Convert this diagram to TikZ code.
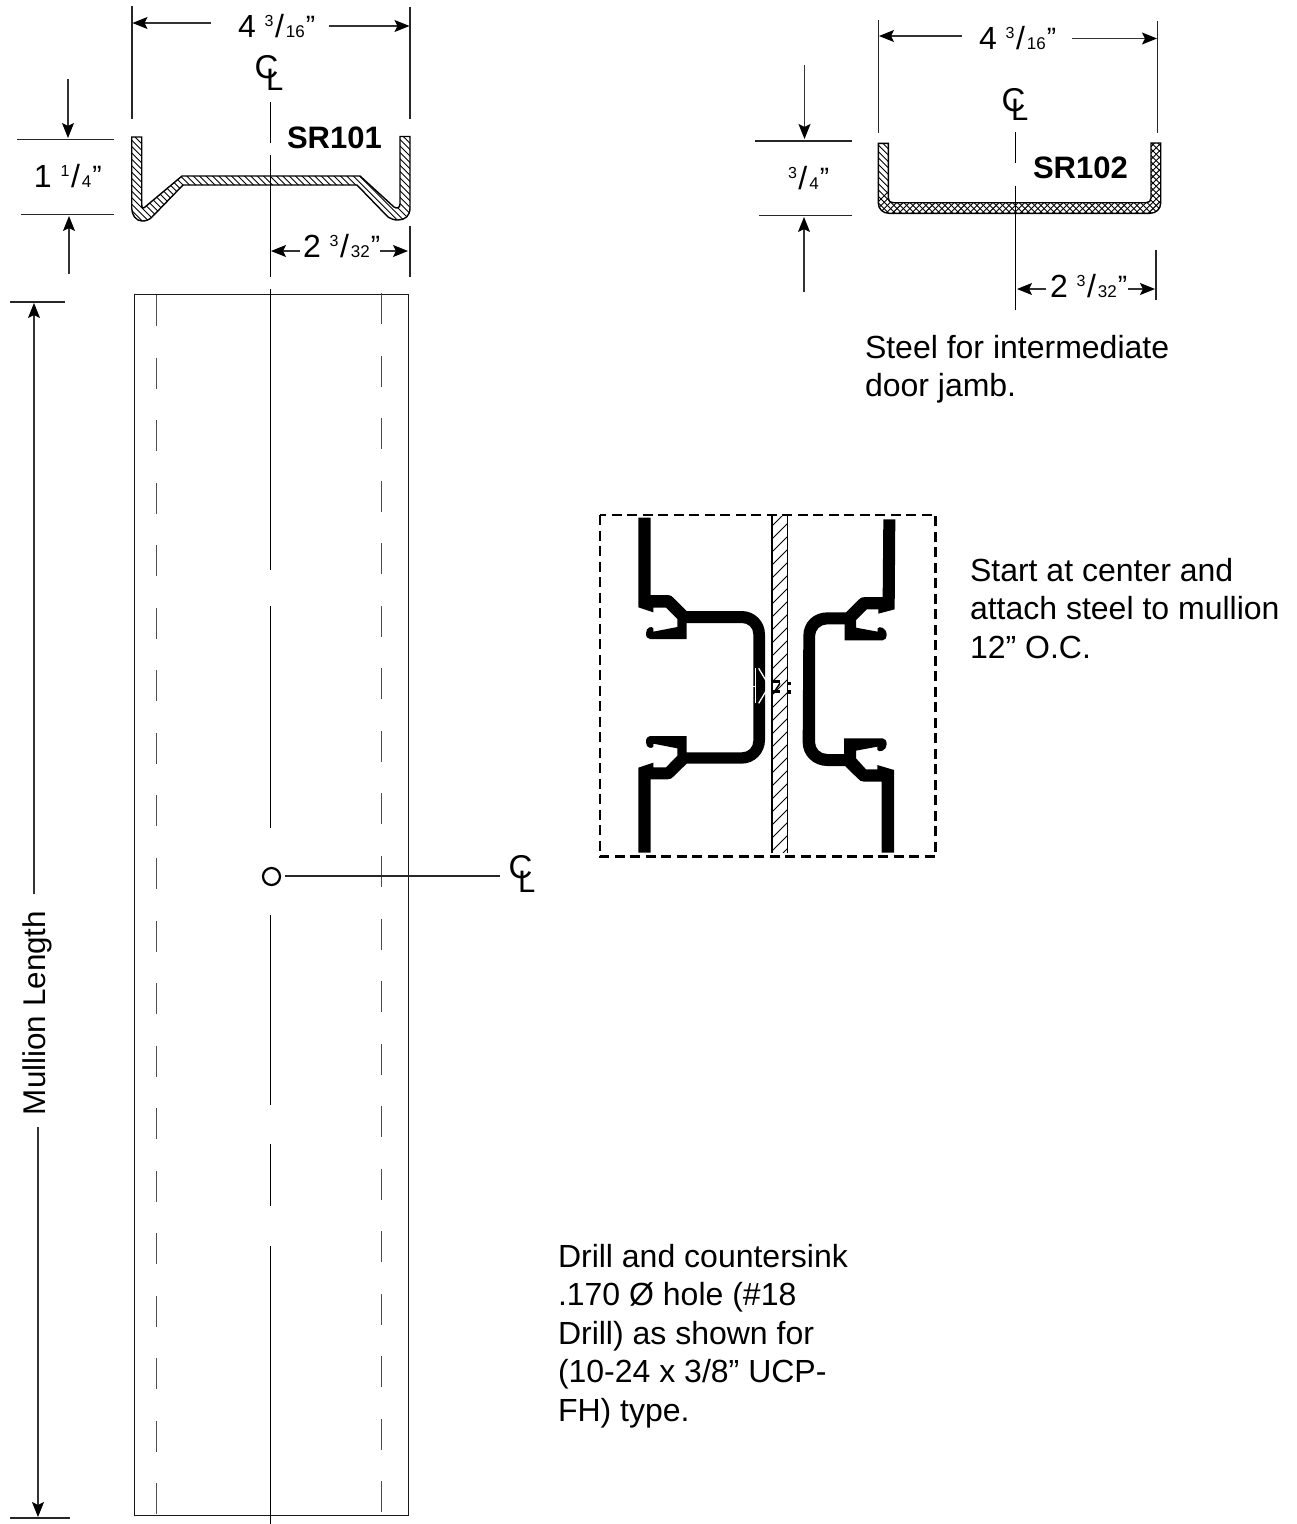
\documentclass[tikz,border=0pt]{standalone}
\usepackage{fontspec}
\setmainfont{Liberation Sans}
\usetikzlibrary{arrows.meta}
\newcommand\frc[2]{\raisebox{10.5pt}{\fontsize{16}{20}\selectfont #1}\kern1.5pt/\kern2pt{\fontsize{17}{20}\selectfont #2}\kern1pt\raisebox{2pt}{\fontsize{28}{30}\selectfont ”}}
\tikzset{
  thin line/.style={line width=1.1pt,black!85},
  dim/.style={line width=1.1pt,black!80,-{Stealth[length=15pt,width=12pt,inset=3pt,color=black]}},
  txt/.style={inner sep=0pt,outer sep=0pt,anchor=base west,font=\fontsize{32}{38.4}\selectfont},
  para/.style={inner sep=0pt,outer sep=0pt,anchor=north west,align=left,font=\fontsize{32}{38.5}\selectfont},
  boldtxt/.style={inner sep=0pt,outer sep=0pt,anchor=base west,font=\fontsize{31}{36}\selectfont\bfseries},
  clsym/.style={inner sep=0pt,outer sep=0pt,anchor=base west,font=\fontsize{31}{36}\selectfont},
  clsymc/.style={inner sep=0pt,outer sep=0pt,anchor=base west,font=\fontsize{33}{36}\selectfont},
  hatchline/.style={line width=0.9pt,black},
  profile/.style={line width=1.4pt,black},
  hidden/.style={line width=1pt,black!70,dash pattern=on 31pt off 31.55pt},
  cline/.style={line width=1pt,black},
}
\def\profA{(131.7,137) -- (141.7,137) -- (141.7,204) .. controls (141.7,208) and (143,209) .. (145,207) -- (182,176) -- (360,176) -- (394,207) .. controls (397,209) and (400,208) .. (400,204) -- (400,136.5) -- (410,136.5) -- (410,208) .. controls (410,216) and (405,220) .. (398,220) .. controls (394,220) and (391,219) .. (388,217) -- (357,185) -- (183,185) -- (152,217) .. controls (149,220) and (146,221) .. (142,221) .. controls (136,221) and (131.7,215) .. (131.7,208) -- cycle}
\def\profB{(878.3,143.3) -- (888.3,143.3) -- (888.3,198) .. controls (888.3,201) and (890,202.7) .. (893,202.7) -- (1146,202.7) .. controls (1149,202.7) and (1151,201) .. (1151,198) -- (1151,143) -- (1160.7,143) -- (1160.7,203) .. controls (1160.7,209) and (1156,213.3) .. (1150,213.3) -- (889,213.3) .. controls (883,213.3) and (878.3,209) .. (878.3,203) -- cycle}
\begin{document}
\begin{tikzpicture}[x=1pt,y=-1pt]
\useasboundingbox (0,0) rectangle (1297,1524);
\fill[white] (0,0) rectangle (1297,1524);

% ---- SR101 section
\begin{scope}
  \clip \profA;
  \foreach \k in {0,...,70} \draw[hatchline] ({-10+6.4*\k},120) -- ({-10+6.4*\k+110},230);
\end{scope}
\draw[profile] \profA;
% extension lines
\draw[thin line] (132,6) -- (132,119);
\draw[thin line] (410,7) -- (410,119);
\draw[dim] (211,23) -- (132.5,23);
\draw[dim] (329,26) -- (409.5,26);
\node[txt] (a4) at (238,37) {4 \frc{3}{16}};
\node[clsymc] (c1c) at (254.5,78) {C};
\node[clsym] (c1l) at (266,90) {L};
\draw[cline] (270,102) -- (270,143);
\draw[cline] (270,155) -- (270,277);
\node[boldtxt] (sr1) at (287,148) {SR101};
\draw[thin line] (17,139.5) -- (114,139.5);
\draw[thin line] (21,214.5) -- (114,214.5);
\draw[dim] (68,79) -- (68,138);
\draw[dim] (69,274) -- (69,216);
\node[txt] (a1) at (34,187) {1 \frc{1}{4}};
\draw[thin line] (410,226) -- (410,277);
\draw[dim] (300,251) -- (271,251);
\draw[dim] (380,251) -- (408,251);
\node[txt] (a2) at (303,257) {2 \frc{3}{32}};

% ---- SR102 section
\begin{scope}
  \clip \profB;
  \foreach \k in {0,...,80} {
    \draw[hatchline] ({780+6.4*\k},130) -- ({780+6.4*\k+90},220);
    \draw[hatchline] ({860+6.4*\k},220) -- ({860+6.4*\k+90},130);
  }
\end{scope}
\draw[profile] \profB;
\draw[thin line] (878.5,20) -- (878.5,133);
\draw[thin line] (1157.5,21) -- (1157.5,133);
\draw[dim] (962,36) -- (879,36);
\draw[dim] (1072,38.5) -- (1157,38.5);
\node[txt] (b4) at (979,49) {4 \frc{3}{16}};
\node[clsymc] (c2c) at (1001.5,111) {C};
\node[clsym] (c2l) at (1011,120) {L};
\draw[cline] (1015,132) -- (1015,163);
\draw[cline] (1015,186) -- (1015,310);
\node[boldtxt] (sr2) at (1033,178) {SR102};
\draw[thin line] (755,141) -- (852,141);
\draw[thin line] (759,215.5) -- (852,215.5);
\draw[dim] (804.5,65) -- (804.5,139);
\draw[dim] (804,292) -- (804,217);
\node[txt] (b1) at (788,189) {\frc{3}{4}};
\draw[thin line] (1156,250) -- (1156,300);
\draw[dim] (1046,289) -- (1017,289);
\draw[dim] (1128,289) -- (1155,289);
\node[txt] (b2) at (1050,297) {2 \frc{3}{32}};
\node[para] (tsteel) at (865,335) {Steel for intermediate\\door jamb.};

% ---- Mullion elevation
\draw[line width=1pt,black!90] (134.5,294) rectangle (408.5,1515);
\draw[hidden] (156,295) -- (156,1515);
\draw[hidden] (381.7,293) -- (381.7,1515);
\draw[cline] (270,289) -- (270,570);
\draw[cline] (270,606) -- (270,827.5);
\draw[cline] (270,915) -- (270,1104.7);
\draw[cline] (270,1144) -- (270,1205.5);
\draw[cline] (270,1246) -- (270,1524);
\node[circle,draw,line width=2.2pt,minimum size=17pt,inner sep=0pt] (hole) at (271.5,876.5) {};
\draw[thin line] (285,876) -- (500,876);
\node[clsymc] (c3c) at (508.5,878) {C};
\node[clsym] (c3l) at (518,892) {L};
% mullion length dimension
\draw[thin line] (10,302) -- (65,302);
\draw[thin line] (10,1518) -- (70,1518);
\draw[dim] (34,894) -- (34,303);
\draw[dim] (38,1127) -- (38,1517);
\node[txt,rotate=90,font=\fontsize{31.4}{38}\selectfont] (mlen) at (45,1115) {Mullion Length};

% ---- Mullion cross-section
\begin{scope}[shift={(590,505)},x=0.33333pt,y=-0.33333pt]
  % centre steel
  \begin{scope}
    \clip (546,33) rectangle (592,1043);
    \foreach \k in {0,...,30} \draw[line width=0.9pt] (530,{40+39*\k}) -- (610,{40+39*\k-80});
  \end{scope}
  \draw[line width=1.4pt] (546,33) -- (546,1043);
  \draw[line width=1.4pt] (592,33) -- (592,1043);
  % left extrusion
  \fill (145,38) -- (182,38) -- (182,270) -- (232,270) .. controls (240,270) and (246,273) .. (250,278) -- (290,318) -- (455,318)
    .. controls (494,318) and (525,349) .. (525,388) -- (525,705) .. controls (525,744) and (494,776) .. (455,776) -- (290,776)
    -- (250,815) .. controls (246,820) and (240,823) .. (232,823) -- (182,823) -- (182,1043) -- (145,1043) -- (145,788) -- (190,773) -- (190,787) -- (228,787)
    -- (262,752) -- (262,730) -- (190,716) -- (190,725) .. controls (186,732) and (168,730) .. (168,712) .. controls (168,700) and (172,693) .. (180,693) -- (290,693) -- (290,742) -- (455,742)
    .. controls (475,742) and (490,727) .. (490,707) -- (490,388) .. controls (490,368) and (475,354) .. (455,354) -- (290,354) -- (290,402) -- (180,402)
    .. controls (172,402) and (168,395) .. (168,385) .. controls (168,366) and (186,362) .. (190,370) -- (190,380) -- (262,366) -- (262,342) -- (228,308) -- (190,308) -- (190,322) -- (145,307) -- cycle;
  % right extrusion
  \fill (880,43) -- (916,43) -- (914,313) -- (865,326) -- (865,313) -- (830,313) -- (798,345) -- (798,368) -- (863,380) -- (863,370)
    .. controls (868,362) and (890,368) .. (890,390) .. controls (890,398) and (886,406) .. (878,406) -- (764,406) -- (764,358) -- (712,358)
    .. controls (691,358) and (675,374) .. (675,395) -- (675,710) .. controls (675,731) and (691,747) .. (712,747) -- (762,747) -- (762,700) -- (878,700)
    .. controls (886,700) and (890,708) .. (890,718) .. controls (890,736) and (868,744) .. (862,735) -- (862,725) -- (798,737) -- (798,760) -- (828,793) -- (862,793) -- (862,780) -- (912,795) -- (912,1043) -- (875,1043) -- (875,830) -- (822,830)
    .. controls (814,830) and (808,826) .. (803,820) -- (765,783) -- (712,783) .. controls (671,783) and (638,752) .. (638,712) -- (640,392)
    .. controls (640,352) and (671,322) .. (712,322) -- (768,322) -- (805,285) .. controls (810,279) and (816,276) .. (825,276) -- (878,276) -- cycle;
  % rivet
  \draw[white,line width=1.3pt] (497,490) -- (497,595);
  \draw[white,line width=1.3pt] (506,490) -- (530,530);
  \draw[white,line width=1.3pt] (530,555) -- (506,595);
  \draw[white,line width=1.3pt] (490,545) -- (497,545);
  \draw[line width=2.5pt] (543,530) -- (570,530);
  \draw[line width=2.5pt] (543,560) -- (570,560);
  \draw[line width=1.5pt] (550,565) -- (570,535);
  \fill (590,530) rectangle (604,541);
  \fill (590,555) rectangle (604,566);
  % dashed frame
  \draw[line width=2.4pt,dash pattern=on 10pt off 5.5pt] (30,30) rectangle (1037,1055);
\end{scope}

\node[para] (tstart) at (970,558) {Start at center and\\attach steel to mullion\\12” O.C.};
\node[para] (tdrill) at (558,1244) {Drill and countersink\\.170 Ø hole (\#18\\Drill) as shown for\\(10-24 x 3/8” UCP-\\FH) type.};
\end{tikzpicture}
\end{document}
